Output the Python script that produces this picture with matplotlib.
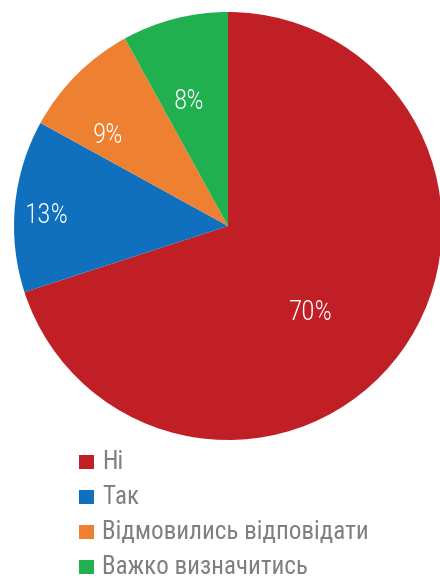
import numpy as np
import matplotlib.pyplot as plt
from matplotlib.patches import Rectangle

labels = ["Ні", "Так", "Відмовились відповідати", "Важко визначитись"]
values = [70, 13, 9, 8]
colors = ["#C01F26", "#1170BE", "#EE8032", "#21B04F"]

# label placement (fraction of radius, angle nudge in degrees)
label_r = [0.56, 0.85, 0.70, 0.61]
label_dt = [-10, 2, 8, 3]

plt.rcParams["font.family"] = ["Roboto Condensed", "DejaVu Sans"]

W, H = 440, 581
fig = plt.figure(figsize=(W / 100, H / 100), dpi=100)

cx, cy, r = 228, 226, 214
ax = fig.add_axes([(cx - r) / W, (H - cy - r) / H, 2 * r / W, 2 * r / H])
wedges, _ = ax.pie(values, colors=colors, startangle=90, counterclock=False,
                   radius=1, wedgeprops=dict(linewidth=0))
ax.set_xlim(-1, 1)
ax.set_ylim(-1, 1)
ax.set_aspect("equal")
ax.axis("off")

for w, v, rr, dt in zip(wedges, values, label_r, label_dt):
    th = np.deg2rad((w.theta1 + w.theta2) / 2 + dt)
    ax.text(rr * np.cos(th), rr * np.sin(th), f"{v}%", ha="center", va="center",
            color="white", fontsize=19.5, fontweight="light")

# legend
base0, step = 469, 35
for i, (lab, c) in enumerate(zip(labels, colors)):
    yb = base0 + i * step
    fig.add_artist(Rectangle((79 / W, 1 - yb / H), 15 / W, 14 / H,
                             transform=fig.transFigure, color=c, lw=0))
    fig.text(102 / W, 1 - yb / H, lab, ha="left", va="baseline",
             color="#7F7F7F", fontsize=18)

fig.savefig("out.png", dpi=100)
